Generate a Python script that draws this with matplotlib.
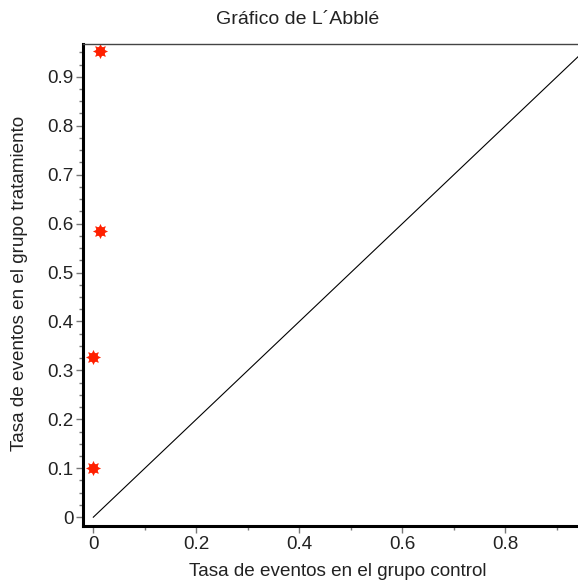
import numpy as np
import matplotlib
matplotlib.use("Agg")
import matplotlib.pyplot as plt
from matplotlib.ticker import MultipleLocator

plt.rcParams['font.family'] = ['Liberation Sans', 'DejaVu Sans']

# tasa de eventos: control (x) vs tratamiento (y)
control = [0.013, 0.013, 0.0, 0.0]
tratamiento = [0.952, 0.585, 0.328, 0.101]
linea = [0.0, 1.0]

W, H = 578, 582
fig = plt.figure(figsize=(W / 100, H / 100), dpi=100)
ax = fig.add_axes([83 / W, 56 / H, 510 / W, 482 / H])

ax.plot(linea, linea, color='black', lw=0.8)
# marcador tipo "estrella" rellena
ax.plot(control, tratamiento, linestyle='none', marker=(8, 1, 0),
        markersize=10, color='#ff2000', markeredgecolor='#ff2000', markeredgewidth=0.5)
ax.plot(control, tratamiento, linestyle='none', marker='o',
        markersize=7, color='#ff2000', markeredgewidth=0)

ax.set_xlim(-0.02, 0.97)
ax.set_ylim(-0.018, 0.967)

ax.xaxis.set_major_locator(MultipleLocator(0.2))
ax.xaxis.set_minor_locator(MultipleLocator(0.1))
ax.yaxis.set_major_locator(MultipleLocator(0.1))
ax.yaxis.set_minor_locator(MultipleLocator(0.025))
fmt = lambda v, p: '0' if abs(v) < 1e-9 else f'{v:g}'
ax.xaxis.set_major_formatter(fmt)
ax.yaxis.set_major_formatter(fmt)

ax.tick_params(which='both', direction='out', color='#777777', labelcolor='#222222',
               labelsize=13.6, top=False, right=False)
ax.tick_params(which='major', length=5, width=1, pad=2)
ax.tick_params(which='minor', length=3, width=1)

ax.spines['left'].set_linewidth(2.2)
ax.spines['bottom'].set_linewidth(2.2)
ax.spines['top'].set_linewidth(1.0)
ax.spines['top'].set_color('#444444')
ax.spines['right'].set_visible(False)

fig.text(338 / W, 1 - 572 / H, 'Tasa de eventos en el grupo control',
         ha='center', va='center', fontsize=13.6, color='#222222')
fig.text(20 / W, 1 - 283 / H, 'Tasa de eventos en el grupo tratamiento',
         ha='center', va='center', rotation=90, fontsize=13.6, color='#222222')
fig.text(298 / W, 1 - 20 / H, 'Gráfico de L´Abblé', ha='center', va='center',
         fontsize=14, color='#222222')

fig.savefig('out.png', dpi=100)
